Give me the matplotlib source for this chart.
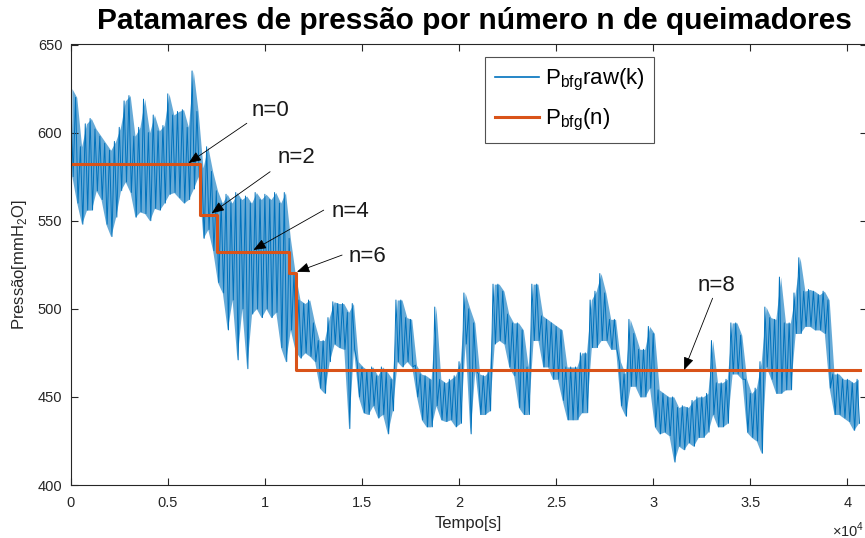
import numpy as np
import matplotlib
matplotlib.use('Agg')
import matplotlib.pyplot as plt

plt.rcParams['font.family'] = ['Liberation Sans', 'DejaVu Sans']
plt.rcParams['mathtext.fontset'] = 'custom'
plt.rcParams['mathtext.rm'] = 'Liberation Sans'

# raw pressure: local high / low per 250 s bin
raw_hi = [625, 620, 592, 605, 608, 602, 598, 594, 590, 595, 603, 618,
          621, 598, 603, 619, 600, 610, 601, 604, 622, 610, 612, 613,
          603, 635, 612, 580, 592, 578, 567, 560, 565, 560, 566, 562,
          564, 560, 566, 562, 565, 562, 566, 560, 566, 540, 520, 505,
          503, 505, 492, 482, 482, 495, 504, 503, 503, 498, 503, 470,
          467, 465, 467, 462, 467, 464, 460, 505, 505, 495, 494, 468,
          463, 462, 460, 501, 460, 458, 460, 462, 470, 509, 500, 492,
          463, 462, 465, 514, 514, 510, 497, 492, 492, 488, 467, 514,
          514, 496, 494, 492, 490, 488, 467, 467, 467, 475, 475, 505,
          510, 520, 509, 494, 494, 470, 463, 494, 486, 477, 477, 490,
          486, 454, 452, 450, 450, 444, 445, 444, 448, 450, 450, 452,
          482, 458, 458, 460, 492, 492, 485, 460, 452, 455, 470, 501,
          495, 494, 518, 492, 492, 509, 529, 510, 511, 510, 508, 510,
          505, 463, 463, 460, 460, 458, 460]
raw_lo = [575, 560, 548, 556, 556, 567, 562, 548, 541, 552, 567, 572,
          566, 552, 555, 554, 550, 557, 556, 560, 565, 566, 563, 560,
          562, 568, 575, 540, 545, 533, 515, 509, 488, 505, 471, 500,
          466, 497, 500, 495, 500, 495, 498, 478, 470, 488, 476, 472,
          475, 473, 470, 455, 452, 470, 480, 478, 477, 432, 477, 450,
          441, 440, 445, 438, 440, 429, 442, 470, 467, 470, 467, 450,
          437, 433, 433, 445, 437, 436, 437, 433, 435, 480, 429, 465,
          440, 440, 442, 480, 482, 480, 467, 462, 444, 440, 440, 482,
          482, 467, 467, 460, 460, 448, 437, 437, 437, 441, 441, 478,
          478, 482, 482, 477, 477, 445, 439, 456, 456, 450, 450, 455,
          433, 429, 430, 428, 413, 422, 420, 424, 422, 427, 427, 430,
          440, 433, 433, 435, 463, 463, 460, 430, 427, 425, 418, 467,
          460, 452, 452, 454, 454, 486, 486, 490, 490, 488, 488, 486,
          455, 440, 440, 438, 436, 431, 435]
bin_dt = 250

# pressure levels per number of burners
step_t = [0, 6650, 7550, 11220, 11610, 40650]
step_p = [582, 553, 532, 520.5, 465, 465]

# (label, text pos, arrow tail, arrow tip)
notes = [('n=0', (10300, 612.8), (9070, 605.3), (6066, 582.7)),
         ('n=2', (11600, 585.6), (10270, 577.8), (7255, 554.2)),
         ('n=4', (14400, 555.0), (13030, 556.0), (9410, 533.4)),
         ('n=6', (15300, 529.6), (13977, 530.5), (11650, 521.0)),
         ('n=8', (33265, 513.0), (33058, 506.0), (31594, 465.3))]

raw_t = np.arange(2 * len(raw_hi)) * (bin_dt / 2)
raw_p = np.column_stack([raw_hi, raw_lo]).ravel()
bin_t = np.arange(len(raw_hi)) * bin_dt + bin_dt / 4

W, H = 865, 538
fig = plt.figure(figsize=(W / 100, H / 100), dpi=100)
ax = fig.add_axes([70.7 / W, 53 / H, (866.8 - 70.7) / W, 440.5 / H])

blue = '#0072BD'
ax.fill_between(bin_t, raw_hi, raw_lo, color=blue, alpha=0.6, lw=0)
ax.plot(raw_t, raw_p, color=blue, lw=0.7, label=r'P$_\mathregular{bfg}$raw(k)')
ax.step(step_t, step_p, where='post', color='#D95319', lw=2.2, label=r'P$_\mathregular{bfg}$(n)')

for lab, txt, tail, tip in notes:
    ax.annotate('', xy=tip, xytext=tail,
                arrowprops=dict(arrowstyle='-|>,head_length=0.55,head_width=0.22',
                                color='k', lw=0.6, mutation_scale=14,
                                shrinkA=0, shrinkB=0))
    ax.text(txt[0], txt[1], lab, fontsize=16, ha='center', va='center', color='#1a1a1a')

ax.set_xlim(0, 41000)
ax.set_ylim(400, 650)
ax.set_yticks(np.arange(400, 651, 50))
xt = np.arange(0, 40001, 5000)
ax.set_xticks(xt)
ax.set_xticklabels(['%g' % (v / 1e4) for v in xt])

gc = '#262626'
for s in ax.spines.values():
    s.set_color(gc)
    s.set_linewidth(0.8)
ax.tick_params(direction='in', length=5, width=0.8, colors=gc, labelsize=10.5,
               top=True, right=True, pad=6)
ax.tick_params(axis='x', pad=8)

ax.set_xlabel('Tempo[s]', fontsize=12, color=gc, labelpad=4)
ax.set_ylabel(r'Pressão[mmH$_\mathregular{2}$O]', fontsize=12, color=gc, labelpad=6)
fig.text(864 / W, 1 - 530 / H, r'$\times$10$^\mathregular{4}$', fontsize=10.5,
         color=gc, ha='right', va='center')
fig.text(474 / W, 1 - 21 / H, 'Patamares de pressão por número n de queimadores',
         fontsize=21.5, fontweight='bold', ha='center', va='center', color='k')

leg = ax.legend(loc='upper left', bbox_to_anchor=(0.520, 0.972), borderaxespad=0,
                fontsize=16, frameon=True, fancybox=False, handlelength=2.0,
                handletextpad=0.25, labelspacing=0.65, borderpad=0.45)
leg.get_frame().set_edgecolor(gc)
leg.get_frame().set_linewidth(0.8)
leg.get_lines()[0].set_linewidth(1.2)

fig.savefig('out.png', dpi=100)
